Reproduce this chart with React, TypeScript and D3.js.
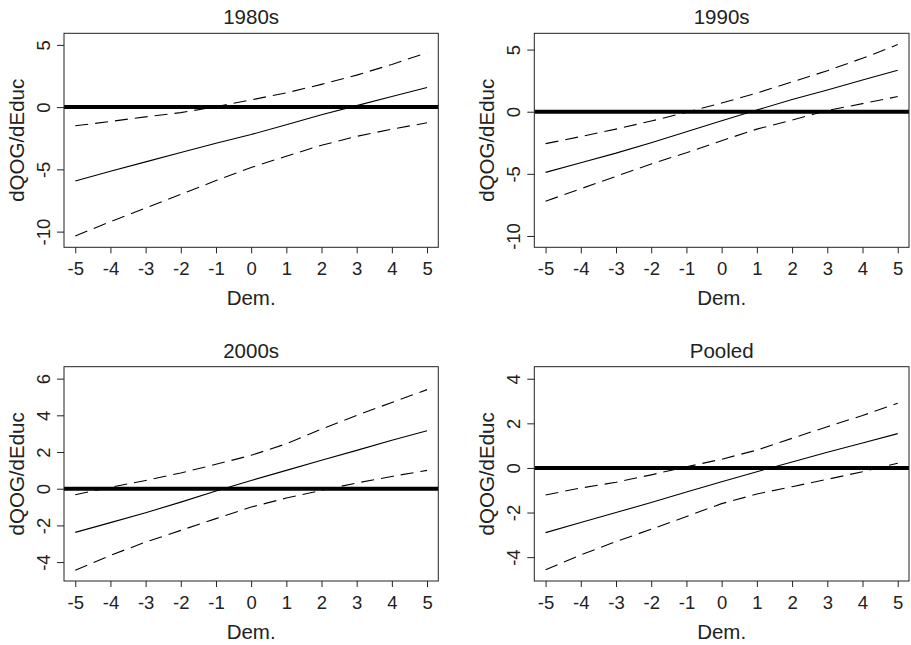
import React, { useEffect, useRef } from 'react';
import * as d3 from 'd3';

// Democracy values (x axis)
const dem = [-5, -4, -3, -2, -1, 0, 1, 2, 3, 4, 5];

// 1980s
const est1980s = [-5.93, -5.15, -4.4, -3.65, -2.9, -2.2, -1.42, -0.62, 0.12, 0.85, 1.58];
const upper1980s = [-1.5, -1.15, -0.78, -0.44, 0.03, 0.58, 1.15, 1.83, 2.57, 3.43, 4.37];
const lower1980s = [-10.35, -9.2, -8.1, -7.0, -5.9, -4.85, -3.94, -3.06, -2.35, -1.77, -1.26];

// 1990s
const est1990s = [-4.88, -4.1, -3.33, -2.49, -1.61, -0.72, 0.14, 0.98, 1.75, 2.55, 3.33];
const upper1990s = [-2.57, -2.0, -1.4, -0.75, -0.05, 0.7, 1.5, 2.4, 3.3, 4.3, 5.4];
const lower1990s = [-7.2, -6.2, -5.2, -4.2, -3.3, -2.33, -1.4, -0.67, 0.1, 0.65, 1.22];

// 2000s
const est2000s = [-2.38, -1.85, -1.31, -0.73, -0.13, 0.45, 1.0, 1.55, 2.09, 2.64, 3.16];
const upper2000s = [-0.33, 0.08, 0.45, 0.86, 1.33, 1.82, 2.45, 3.25, 4.0, 4.7, 5.4];
const lower2000s = [-4.45, -3.63, -2.91, -2.27, -1.63, -1.0, -0.51, -0.09, 0.31, 0.67, 1.0];

// Pooled
const estPooled = [-2.9, -2.45, -2.0, -1.55, -1.08, -0.62, -0.17, 0.27, 0.7, 1.12, 1.54];
const upperPooled = [-1.21, -0.9, -0.64, -0.31, 0.05, 0.39, 0.8, 1.33, 1.85, 2.35, 2.9];
const lowerPooled = [-4.57, -3.9, -3.3, -2.75, -2.18, -1.6, -1.17, -0.84, -0.51, -0.17, 0.21];

const xTicks = [-5, -4, -3, -2, -1, 0, 1, 2, 3, 4, 5];
const yTicks1980s = [-10, -5, 0, 5];
const yTicks1990s = [-10, -5, 0, 5];
const yTicks2000s = [-4, -2, 0, 2, 4, 6];
const yTicksPooled = [-4, -2, 0, 2, 4];

const panels = [
  { title: '1980s', est: est1980s, upper: upper1980s, lower: lower1980s, yDomain: [-11.26, 5.93], yTicks: yTicks1980s, col: 0, row: 0 },
  { title: '1990s', est: est1990s, upper: upper1990s, lower: lower1990s, yDomain: [-10.91, 6.31], yTicks: yTicks1990s, col: 1, row: 0 },
  { title: '2000s', est: est2000s, upper: upper2000s, lower: lower2000s, yDomain: [-5.03, 6.65], yTicks: yTicks2000s, col: 0, row: 1 },
  { title: 'Pooled', est: estPooled, upper: upperPooled, lower: lowerPooled, yDomain: [-5.07, 4.54], yTicks: yTicksPooled, col: 1, row: 1 },
];

const font = '"Liberation Sans", Arial, Helvetica, sans-serif';

export default function App() {
  const svgRef = useRef<SVGSVGElement>(null);

  useEffect(() => {
    const svg = d3.select(svgRef.current);
    svg.selectAll('*').remove();

    const colX = [[64, 438.3], [534.3, 909]];
    const rowY = [[33.3, 247.3], [366.7, 581]];

    panels.forEach((p, idx) => {
      const [x0, x1] = colX[p.col];
      const [y0, y1] = rowY[p.row];

      const x = d3.scaleLinear().domain([-5.32, 5.32]).range([x0, x1]);
      const y = d3.scaleLinear().domain(p.yDomain).range([y1, y0]);

      const g = svg.append('g');

      const clipId = `clip-${idx}`;
      g.append('clipPath')
        .attr('id', clipId)
        .append('rect')
        .attr('x', x0)
        .attr('y', y0)
        .attr('width', x1 - x0)
        .attr('height', y1 - y0);

      const plot = g.append('g').attr('clip-path', `url(#${clipId})`);

      const line = d3.line<number>()
        .x((d, i) => x(dem[i]))
        .y(d => y(d));

      // zero reference line
      plot.append('line')
        .attr('x1', x0)
        .attr('x2', x1)
        .attr('y1', y(0))
        .attr('y2', y(0))
        .attr('stroke', '#000')
        .attr('stroke-width', 4);

      plot.append('path')
        .attr('d', line(p.est))
        .attr('fill', 'none')
        .attr('stroke', '#000')
        .attr('stroke-width', 1.1);

      [p.upper, p.lower].forEach(band => {
        plot.append('path')
          .attr('d', line(band))
          .attr('fill', 'none')
          .attr('stroke', '#000')
          .attr('stroke-width', 1.1)
          .attr('stroke-dasharray', '13,7');
      });

      // box
      g.append('rect')
        .attr('x', x0)
        .attr('y', y0)
        .attr('width', x1 - x0)
        .attr('height', y1 - y0)
        .attr('fill', 'none')
        .attr('stroke', '#222')
        .attr('stroke-width', 1);

      // x axis
      const xAxis = g.append('g')
        .attr('transform', `translate(0,${y1})`)
        .call(d3.axisBottom(x).tickValues(xTicks).tickSize(6).tickFormat(d3.format('d')));
      xAxis.select('.domain').remove();
      xAxis.selectAll('line').attr('stroke', '#222');
      xAxis.selectAll('text')
        .attr('y', 27.7)
        .attr('dy', null)
        .attr('fill', '#222')
        .attr('font-size', 18.5)
        .attr('font-family', font)
        .text(d => String(d));

      // y axis
      const yAxis = g.append('g')
        .attr('transform', `translate(${x0},0)`)
        .call(d3.axisLeft(y).tickValues(p.yTicks).tickSize(7).tickFormat(d3.format('d')));
      yAxis.select('.domain').remove();
      yAxis.selectAll('line').attr('stroke', '#222');
      yAxis.selectAll('text')
        .attr('x', 0)
        .attr('dy', null)
        .attr('transform', 'translate(-14.5,0) rotate(-90)')
        .attr('text-anchor', 'middle')
        .attr('fill', '#222')
        .attr('font-size', 18.5)
        .attr('font-family', font)
        .text(d => String(d));

      // title
      svg.append('text')
        .attr('x', (x0 + x1) / 2)
        .attr('y', y0 - 9.2)
        .attr('text-anchor', 'middle')
        .attr('font-size', 20.5)
        .attr('font-family', font)
        .attr('fill', '#222')
        .text(p.title);

      // x label
      svg.append('text')
        .attr('x', (x0 + x1) / 2)
        .attr('y', y1 + 57.7)
        .attr('text-anchor', 'middle')
        .attr('font-size', 20.5)
        .attr('font-family', font)
        .attr('fill', '#222')
        .text('Dem.');

      // y label
      svg.append('text')
        .attr('transform', `translate(${x0 - 40.3},${(y0 + y1) / 2}) rotate(-90)`)
        .attr('text-anchor', 'middle')
        .attr('font-size', 20.5)
        .attr('font-family', font)
        .attr('fill', '#222')
        .text('dQOG/dEduc');
    });
  }, []);

  return (
    <svg
      ref={svgRef}
      width={911}
      height={645}
      style={{ position: 'absolute', left: 0, top: 0, background: '#fff' }}
    />
  );
}
